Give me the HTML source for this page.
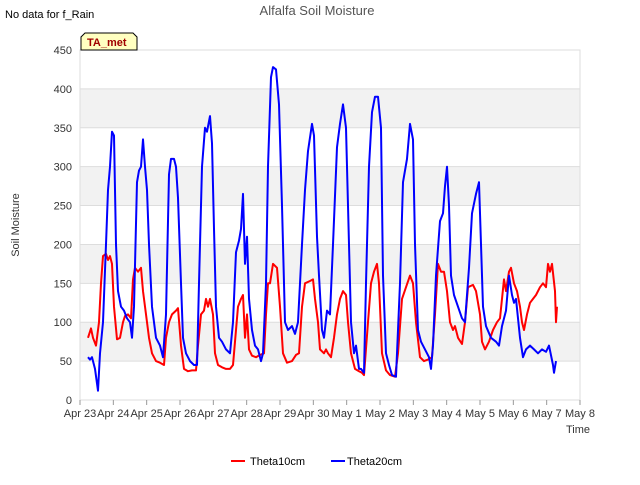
<!DOCTYPE html>
<html><head><meta charset="utf-8"><style>
body{margin:0;background:#fff;font-family:"Liberation Sans",sans-serif}
svg text{font-family:"Liberation Sans","DejaVu Sans",sans-serif}
</style></head><body>
<svg id="c" width="640" height="480" xmlns="http://www.w3.org/2000/svg">
<rect width="640" height="480" fill="#fff"/>
<g id="bands"></g><g id="grid"></g>
<rect x="80" y="50" width="500" height="350" fill="none" stroke="#ddd"/>
<g id="series"></g><g id="axes"></g>
<text x="317" y="15" text-anchor="middle" font-size="13" fill="#555">Alfalfa Soil Moisture</text>
<text x="5" y="18" font-size="11" fill="#000">No data for f_Rain</text>
<g><path d="M81,50 L81,37 L85,33 L133,33 L137,37 L137,50 Z" fill="#ffffc0" stroke="#000"/>
<text x="87" y="46" font-size="11" font-weight="bold" fill="#a00000">TA_met</text></g>
<text transform="translate(19,225) rotate(-90)" text-anchor="middle" font-size="11" fill="#333">Soil Moisture</text>
<text x="566" y="433" font-size="11" fill="#333">Time</text>
<g>
<g><line x1="231" y1="461" x2="245" y2="461" stroke="#f00" stroke-width="2"/><text x="250" y="465" font-size="11">Theta10cm</text></g>
<g><line x1="331" y1="461" x2="345" y2="461" stroke="#00f" stroke-width="2"/><text x="347" y="465" font-size="11">Theta20cm</text></g>
</g>
</svg>
<script>
const xTickLabels=["Apr 23","Apr 24","Apr 25","Apr 26","Apr 27","Apr 28","Apr 29","Apr 30","May 1","May 2","May 3","May 4","May 5","May 6","May 7","May 8"];
const yTicks=[0,50,100,150,200,250,300,350,400,450];
const theta10Days=[0.24,0.33,0.39,0.48,0.57,0.63,0.69,0.78,0.84,0.9,0.96,1.02,1.11,1.2,1.29,1.35,1.44,1.53,1.59,1.65,1.74,1.83,1.89,1.98,2.07,2.16,2.28,2.4,2.52,2.58,2.67,2.76,2.88,2.94,3.03,3.12,3.24,3.36,3.48,3.54,3.63,3.72,3.78,3.84,3.9,3.99,4.05,4.14,4.26,4.38,4.5,4.59,4.68,4.74,4.83,4.89,4.95,5.01,5.07,5.16,5.28,5.4,5.52,5.58,5.64,5.7,5.79,5.91,6.0,6.09,6.21,6.36,6.48,6.57,6.66,6.75,6.9,6.99,7.05,7.14,7.2,7.32,7.38,7.44,7.53,7.62,7.71,7.8,7.89,7.98,8.04,8.13,8.25,8.37,8.46,8.52,8.64,8.73,8.82,8.91,8.97,9.06,9.18,9.3,9.45,9.54,9.66,9.78,9.9,9.99,10.08,10.2,10.32,10.44,10.56,10.65,10.74,10.83,10.92,11.01,11.1,11.19,11.25,11.34,11.46,11.55,11.64,11.79,11.88,12.0,12.06,12.15,12.27,12.39,12.51,12.6,12.66,12.72,12.78,12.87,12.93,13.02,13.11,13.2,13.26,13.32,13.41,13.5,13.59,13.68,13.8,13.89,13.98,14.04,14.1,14.16,14.25,14.28,14.31];
const theta10Values=[80,92,80,70,100,150,185,188,180,185,175,120,78,80,100,108,110,105,155,170,165,170,140,110,80,60,50,48,45,80,100,110,115,118,70,40,37,38,38,70,110,115,130,120,130,110,60,45,42,40,40,45,90,120,130,135,80,110,65,57,55,58,60,110,150,150,175,170,120,60,48,50,58,60,120,150,153,155,130,100,65,60,65,60,55,80,110,130,140,135,100,60,40,37,35,32,100,150,165,175,150,60,38,32,30,60,130,145,160,150,100,55,50,52,55,110,175,165,165,140,100,90,95,80,72,100,145,148,140,110,75,65,75,90,100,105,130,155,140,165,170,150,140,120,100,90,110,125,130,135,145,150,145,175,165,175,140,100,120];
const theta20Days=[0.24,0.3,0.36,0.45,0.54,0.6,0.69,0.78,0.84,0.9,0.96,1.02,1.08,1.14,1.23,1.32,1.41,1.5,1.56,1.62,1.71,1.77,1.83,1.89,1.95,2.01,2.07,2.16,2.28,2.4,2.49,2.58,2.67,2.73,2.82,2.88,2.94,3.03,3.09,3.18,3.3,3.42,3.51,3.57,3.66,3.75,3.81,3.9,3.96,4.02,4.08,4.17,4.26,4.38,4.5,4.59,4.68,4.77,4.83,4.89,4.95,5.01,5.07,5.16,5.25,5.34,5.43,5.49,5.58,5.64,5.73,5.79,5.88,5.97,6.06,6.15,6.24,6.36,6.45,6.54,6.66,6.75,6.84,6.96,7.02,7.11,7.17,7.26,7.32,7.41,7.5,7.59,7.71,7.8,7.89,7.98,8.04,8.13,8.22,8.28,8.37,8.43,8.52,8.58,8.67,8.76,8.85,8.94,9.03,9.09,9.18,9.27,9.36,9.48,9.6,9.69,9.81,9.9,9.99,10.05,10.14,10.23,10.35,10.47,10.53,10.59,10.68,10.8,10.89,10.95,11.01,11.07,11.13,11.22,11.34,11.46,11.55,11.67,11.76,11.88,11.97,12.03,12.09,12.18,12.33,12.48,12.57,12.66,12.78,12.87,12.96,13.02,13.08,13.2,13.29,13.38,13.5,13.62,13.74,13.86,13.98,14.07,14.19,14.22,14.28];
const theta20Values=[55,52,55,40,12,60,100,200,270,300,345,340,200,140,120,115,105,100,80,120,280,295,300,335,300,270,200,120,80,70,55,110,290,310,310,300,260,150,80,60,50,45,45,150,300,350,345,365,330,220,120,80,75,65,60,100,190,205,220,265,175,210,130,90,70,65,50,60,150,300,415,428,425,380,250,100,90,95,85,100,200,270,320,355,340,210,160,90,80,115,110,200,325,355,380,350,250,100,60,70,40,40,35,150,300,370,390,390,350,160,60,45,32,30,150,280,310,355,335,200,90,75,65,55,40,70,160,230,240,275,300,250,160,135,120,105,100,170,240,265,280,200,120,95,80,75,70,95,115,160,135,125,130,80,55,65,70,65,60,65,62,70,45,35,50];
const NS='http://www.w3.org/2000/svg';
const X0=80,X1=580,Y0=400,Y1=50,YMAX=450,NDAYS=15;
const xs=d=>X0+d*(X1-X0)/NDAYS;
const ys=v=>Y0-v*(Y0-Y1)/YMAX;
function mk(t,a,p){const e=document.createElementNS(NS,t);for(const k in a)e.setAttribute(k,a[k]);p.appendChild(e);return e;}
const bands=document.getElementById('bands'),grid=document.getElementById('grid'),axes=document.getElementById('axes'),series=document.getElementById('series');
for(let i=1;i<yTicks.length-1;i+=2){
 const r=mk('rect',{x:X0,y:ys(yTicks[i+1]),width:X1-X0,height:ys(yTicks[i])-ys(yTicks[i+1]),fill:'#f2f2f2'},bands);
 
 
}
yTicks.forEach(v=>{
 const l=mk('line',{x1:X0,x2:X1,y1:ys(v),y2:ys(v),stroke:'#ddd'},grid);
 
 
 const t=mk('text',{x:X0-8,y:ys(v)+4,'text-anchor':'end','font-size':'11',fill:'#333'},axes);
 t.textContent=v;
 
 
});
xTickLabels.forEach((s,i)=>{
 const l=mk('line',{x1:xs(i),x2:xs(i),y1:Y0,y2:Y0+5,stroke:'#999'},axes);
 
 
 const t=mk('text',{x:xs(i),y:Y0+17,'text-anchor':'middle','font-size':'11',fill:'#333'},axes);
 t.textContent=s;
 
 
});
function line(days,vals,color,name){
 const d=days.map((x,i)=>(i?'L':'M')+xs(x).toFixed(1)+','+ys(vals[i]).toFixed(1)).join('');
 const p=mk('path',{d:d,fill:'none',stroke:color,'stroke-width':'2','stroke-linejoin':'round'},series);
 
 
}
line(theta10Days,theta10Values,'#f00','theta10cm-line');
line(theta20Days,theta20Values,'#00f','theta20cm-line');
</script>
</body></html>
